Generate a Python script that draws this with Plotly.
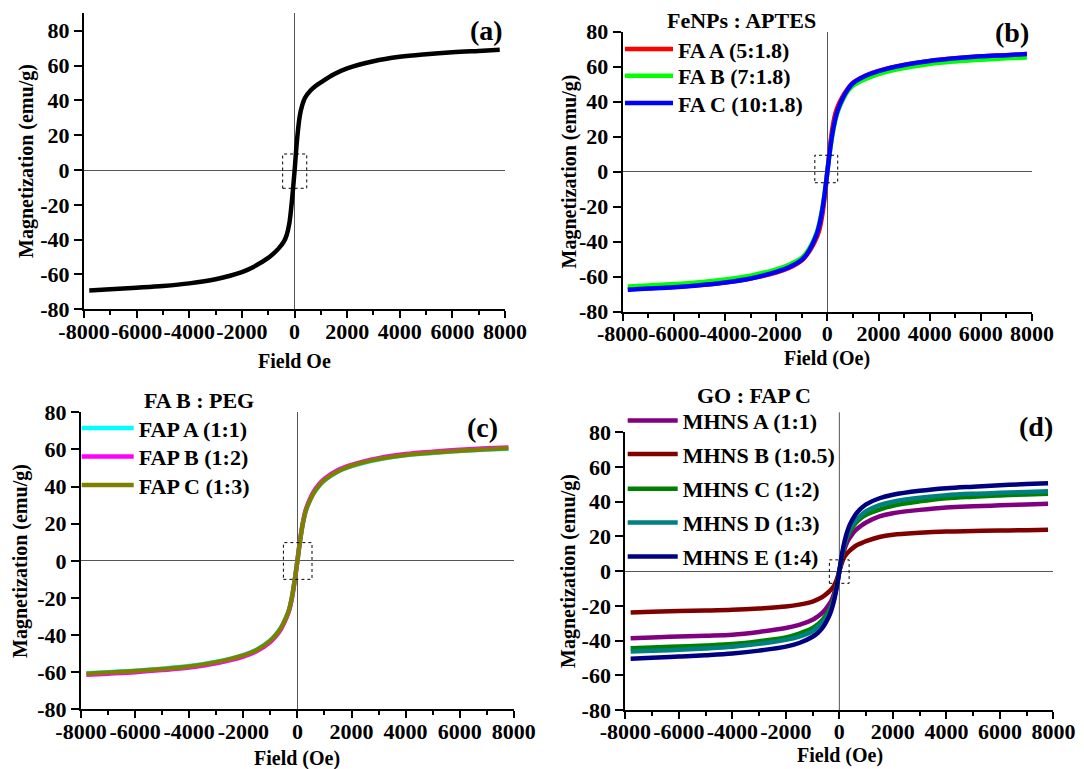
import plotly.graph_objects as go

W, H = 1084, 769
FONT = "Liberation Serif"

# ---------------- data ----------------
FIELD = [-7800, -7000, -6000, -5000, -4000, -3000, -2000, -1500, -1000, -800, -600, -400, -300, -200, -100, 0,
         100, 200, 300, 400, 600, 800, 1000, 1500, 2000, 3000, 4000, 5000, 6000, 7000, 7800]

# (a) FeNPs
M_FENP = [-69.2, -68.5, -67.6, -66.6, -65.1, -62.7, -58.6, -55.2, -50.5, -48.0, -45.0, -41.0, -37.5, -31.0, -18.0, -1.0,
          18.0, 31.0, 37.5, 41.5, 45.5, 48.2, 50.3, 55.0, 58.4, 62.5, 65.0, 66.5, 67.6, 68.4, 69.0]

# (b) FeNPs : APTES
B_NAMES = ["FA A (5:1.8)", "FA B (7:1.8)", "FA C (10:1.8)"]
M_FA_A = [-67.2, -66.6, -65.9, -64.8, -63.3, -61.0, -57.6, -55.0, -50.8, -47.5, -43.0, -37.0, -32.5, -25.0, -14.0, 0.0,
          14.0, 25.0, 32.5, 37.0, 43.0, 47.5, 50.8, 55.0, 57.6, 61.0, 63.3, 64.8, 65.9, 66.6, 67.2]
M_FA_B = [-65.6, -65.0, -64.2, -63.1, -61.6, -59.4, -55.8, -53.2, -49.2, -46.0, -41.0, -34.0, -28.6, -21.3, -11.6, 0.0,
          11.6, 21.3, 28.6, 34.0, 41.0, 46.0, 49.2, 53.0, 55.8, 59.3, 61.6, 63.0, 64.0, 64.8, 65.3]
M_FA_C = [-67.4, -66.8, -66.0, -64.9, -63.3, -61.0, -57.3, -54.6, -50.3, -47.0, -42.0, -35.0, -29.5, -22.0, -12.0, 0.0,
          12.0, 22.0, 29.5, 35.0, 42.0, 47.0, 50.5, 54.8, 57.5, 61.0, 63.3, 64.8, 65.9, 66.6, 67.2]

# (c) FA B : PEG
C_NAMES = ["FAP A (1:1)", "FAP B (1:2)", "FAP C (1:3)"]
M_FAP_A = [-60.6, -60.0, -59.2, -58.1, -56.7, -54.4, -50.8, -47.8, -42.8, -39.8, -35.8, -29.8, -25.8, -19.3, -10.3, 0.0,
           10.8, 19.8, 26.3, 30.3, 36.3, 40.3, 43.3, 48.1, 51.0, 54.6, 56.8, 58.1, 59.1, 59.9, 60.4]
M_FAP_B = [-61.4, -60.8, -60.0, -58.9, -57.5, -55.2, -51.6, -48.6, -43.7, -40.7, -36.6, -30.5, -26.4, -19.9, -10.8, 0.0,
           11.3, 20.4, 27.0, 31.1, 37.2, 41.2, 44.2, 48.9, 51.7, 55.3, 57.5, 58.8, 59.8, 60.6, 61.1]
M_FAP_C = [-60.8, -60.2, -59.4, -58.3, -56.9, -54.6, -51.0, -48.0, -43.0, -40.0, -36.0, -30.0, -26.0, -19.5, -10.5, 0.0,
           11.0, 20.0, 26.5, 30.5, 36.5, 40.5, 43.5, 48.3, 51.2, 54.8, 57.0, 58.3, 59.3, 60.1, 60.6]

# (d) GO : FAP C
D_NAMES = ["MHNS A (1:1)", "MHNS B (1:0.5)", "MHNS C (1:2)", "MHNS D (1:3)", "MHNS E (1:4)"]
M_MHNS_A = [-38.6, -38.2, -37.7, -37.2, -36.6, -35.0, -32.8, -31.0, -28.0, -26.0, -23.5, -19.5, -17.0, -13.0, -7.0, 0.0,
            7.0, 13.0, 17.0, 19.5, 23.5, 26.0, 28.0, 31.5, 33.4, 35.3, 36.7, 37.4, 37.9, 38.4, 38.8]
M_MHNS_B = [-23.8, -23.4, -23.0, -22.7, -22.3, -21.5, -20.4, -19.3, -17.5, -16.2, -14.5, -12.0, -10.5, -8.5, -5.0, 0.0,
            5.0, 8.5, 10.5, 12.0, 14.5, 16.0, 17.3, 19.7, 21.0, 22.1, 22.8, 23.1, 23.4, 23.6, 23.8]
M_MHNS_C = [-44.4, -44.0, -43.4, -42.8, -42.0, -40.4, -38.2, -36.0, -32.8, -30.5, -27.5, -23.0, -20.0, -15.5, -8.5, 0.0,
            8.5, 15.5, 20.0, 23.0, 27.5, 30.5, 32.5, 35.5, 37.7, 40.2, 42.0, 42.9, 43.6, 44.2, 44.6]
M_MHNS_D = [-46.3, -45.9, -45.3, -44.5, -43.5, -41.9, -39.6, -37.7, -34.6, -32.0, -29.0, -24.5, -21.0, -16.0, -9.0, 0.0,
            9.0, 16.0, 21.0, 24.5, 29.0, 32.0, 34.5, 38.0, 40.0, 42.3, 43.8, 44.6, 45.1, 45.6, 46.0]
M_MHNS_E = [-50.4, -49.9, -49.2, -48.4, -47.4, -45.8, -43.5, -41.4, -37.8, -35.5, -32.0, -26.5, -22.5, -17.0, -9.5, 0.0,
            10.0, 17.5, 23.0, 27.0, 32.5, 36.0, 38.5, 42.0, 44.0, 46.3, 47.8, 48.7, 49.5, 50.2, 50.7]

X_TICKS = [-8000, -6000, -4000, -2000, 0, 2000, 4000, 6000, 8000]
X_TICK_TEXT = ["-8000", "-6000", "-4000", "-2000", "0", "2000", "4000", "6000", "8000"]
Y_TICKS = [-80, -60, -40, -20, 0, 20, 40, 60, 80]
Y_TICK_TEXT = ["-80", "-60", "-40", "-20", "0", "20", "40", "60", "80"]

# dashed zoom boxes around origin  [x0, x1, y0, y1]
BOX_A = [-450, 465, -10.5, 9.2]
BOX_B = [-489, 405, -6.3, 9.4]
BOX_C = [-517, 540, -10.0, 9.8]
BOX_D = [-373, 366, -7.0, 6.5]

# ---------------- layout helpers ----------------
def fx(p):
    return p / W

def fy(p):
    return 1 - p / H

PANELS = {
    # name: (x0px, x1px, ytop_px, ybot_px, yrange)
    "a": (84, 505, 13.3, 309.3, [-80, 90]),
    "b": (622.7, 1032, 31.7, 311.7, [-80, 80]),
    "c": (81, 513.8, 412.3, 709.3, [-80, 80]),
    "d": (625.3, 1053.4, 432.3, 710, [-80, 80]),
}

# legend entry placement: (legend left px, entry centre y px)
LEG_B = [(620, 49.3), (620, 76.0), (620, 103.3)]
LEG_C = [(76.7, 428.3), (76.7, 456.7), (76.7, 485.3)]
LEG_D = [(622.7, 420.7), (622.7, 454.3), (622.7, 489.0), (622.7, 522.7), (622.7, 556.7)]

fig = go.Figure()
legend_layouts = {}
leg_count = [0]

def add_line(xa, ya, y, name, color, width, leg=None, itemwidth=48):
    legid = None
    if leg is not None:
        leg_count[0] += 1
        legid = "legend" if leg_count[0] == 1 else "legend%d" % leg_count[0]
        legend_layouts[legid] = dict(
            x=fx(leg[0]), y=fy(leg[1]), xanchor="left", yanchor="middle",
            bgcolor="rgba(0,0,0,0)", borderwidth=0, itemwidth=itemwidth,
            font=dict(family=FONT, size=22, color="black", weight="bold"),
            itemclick=False, itemdoubleclick=False)
    fig.add_trace(go.Scatter(
        x=FIELD, y=y, mode="lines", name=name,
        line=dict(color=color, width=width, shape="spline", smoothing=1.0),
        xaxis=xa, yaxis=ya, showlegend=legid is not None,
        legend=legid if legid else "legend",
        hoverinfo="skip"))

# (a)
add_line("x", "y", M_FENP, "FeNPs", "black", 4.5)
# (b)
for m, n, c, lg in zip([M_FA_A, M_FA_B, M_FA_C], B_NAMES, ["#ff0000", "#00ff00", "#0000ff"], LEG_B):
    add_line("x2", "y2", m, n, c, 4.5, lg, 48)
# (c)
for m, n, c, lg in zip([M_FAP_A, M_FAP_B, M_FAP_C], C_NAMES, ["#00ffff", "#ff00ff", "#808000"], LEG_C):
    add_line("x3", "y3", m, n, c, 4.5, lg, 52)
# (d)
for m, n, c, lg in zip([M_MHNS_A, M_MHNS_B, M_MHNS_C, M_MHNS_D, M_MHNS_E], D_NAMES,
                       ["#800080", "#800000", "#008000", "#008080", "#000080"], LEG_D):
    add_line("x4", "y4", m, n, c, 4.5, lg, 50)

tickfont = dict(family=FONT, size=22, color="black", weight="bold")

for i, key in enumerate(["a", "b", "c", "d"]):
    x0, x1, yt, yb, yr = PANELS[key]
    sfx = "" if i == 0 else str(i + 1)
    fig.update_layout(**{
        "xaxis" + sfx: dict(
            domain=[fx(x0), fx(x1)], range=[-8000, 8000], anchor="y" + sfx, automargin=False,
            tickmode="array", tickvals=X_TICKS, ticktext=X_TICK_TEXT, tickangle=0,
            ticks="outside", ticklen=7, tickwidth=2, tickcolor="black",
            minor=dict(tickmode="linear", tick0=-8000, dtick=1000, ticks="outside",
                       ticklen=4, tickwidth=1.5, tickcolor="black"),
            showline=True, linewidth=2, linecolor="black", showgrid=False,
            zeroline=(key != "d"), zerolinecolor="#555555", zerolinewidth=1,
            tickfont=tickfont, ticklabelstandoff=-6, fixedrange=True),
        "yaxis" + sfx: dict(
            domain=[fy(yb), fy(yt)], range=yr, anchor="x" + sfx, automargin=False,
            tickmode="array", tickvals=Y_TICKS, ticktext=Y_TICK_TEXT,
            ticks="outside", ticklen=8, tickwidth=2, tickcolor="black",
            showline=True, linewidth=2, linecolor="black", showgrid=False,
            zeroline=True, zerolinecolor="#555555", zerolinewidth=1,
            tickfont=tickfont, fixedrange=True),
    })

# vertical zero line of (d) runs above the axis top
fig.add_shape(type="line", xref="x4", yref="paper", x0=0, x1=0,
              y0=fy(710), y1=fy(412.3), line=dict(color="#555555", width=1), layer="below")

for box, xr, yr in [(BOX_A, "x", "y"), (BOX_B, "x2", "y2"), (BOX_C, "x3", "y3"), (BOX_D, "x4", "y4")]:
    fig.add_shape(type="rect", xref=xr, yref=yr, x0=box[0], x1=box[1], y0=box[2], y1=box[3],
                  line=dict(color="black", width=1, dash="dot"), layer="above")

annots = []
def txt(text, xp, yp, size, angle=0):
    annots.append(dict(text=text, x=fx(xp), y=fy(yp), xref="paper", yref="paper",
                       xanchor="center", yanchor="middle", showarrow=False, textangle=angle,
                       font=dict(family=FONT, size=size, color="black", weight="bold")))

# axis titles
txt("Magnetization (emu/g)", 26, 161, 20, -90)
txt("Magnetization (emu/g)", 569.5, 172, 20, -90)
txt("Magnetization (emu/g)", 20, 561, 20, -90)
txt("Magnetization (emu/g)", 568, 571, 20, -90)
txt("Field Oe", 294.5, 361, 20)
txt("Field (Oe)", 827.3, 358, 20)
txt("Field (Oe)", 297, 758, 20)
txt("Field (Oe)", 839.7, 755, 20)
# legend titles
txt("FeNPs : APTES", 741.7, 20.7, 22)
txt("FA B : PEG", 199, 400, 22)
txt("GO : FAP C", 754, 395, 22)
# panel labels
txt("(a)", 486.5, 30, 28)
txt("(b)", 1012, 32.5, 28)
txt("(c)", 482.5, 427.5, 28)
txt("(d)", 1035.6, 426.7, 28)

fig.update_layout(
    template="none",
    font=dict(family=FONT, size=22, color="black", weight="bold"),
    width=W, height=H, margin=dict(l=0, r=0, t=0, b=0, autoexpand=False),
    paper_bgcolor="white", plot_bgcolor="white",
    annotations=annots, showlegend=True,
    **legend_layouts,
)

fig.write_html("out.html")
